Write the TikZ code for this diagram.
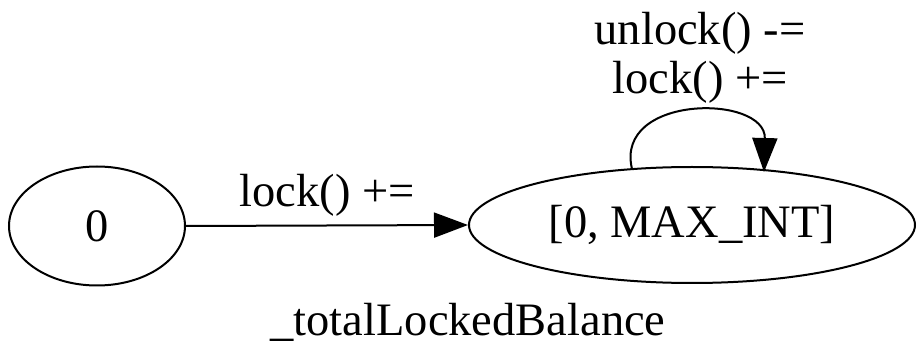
\documentclass[tikz,border=0pt]{standalone}
\usepackage{fontspec}
\setmainfont{Liberation Serif}
\usetikzlibrary{arrows.meta,shapes.geometric}
\begin{document}
\begin{tikzpicture}[x=1pt,y=-1pt,
  state/.style={draw,ellipse,line width=2pt,inner sep=0pt},
  lbl/.style={inner sep=0pt},
  edge/.style={line width=2pt,-{Triangle[length=34pt,width=25pt]}},
  every node/.style={font=\fontsize{46.5}{56}\selectfont}]
\useasboundingbox (0,0) rectangle (918,347);
\node[state,minimum width=176pt,minimum height=119pt] (s0) at (97,226) {0};
\node[state,minimum width=446pt,minimum height=116pt] (s1) at (692,225) {[0, MAX\_INT]};
\draw[edge] (s0.east) -- (s1.west) node[lbl,midway,above=8pt] (e1) {lock() +=};
\coordinate (ls) at (632,169);
\coordinate (le) at (764,172);
\draw[edge] (ls) .. controls (614,94) and (766,94) .. (le);
\node[lbl] (l1) at (700,33) {unlock() -=};
\node[lbl] (l2) at (700,82) {lock() +=};
\node[lbl] (title) at (468,322) {\_totalLockedBalance};
\end{tikzpicture}
\end{document}
